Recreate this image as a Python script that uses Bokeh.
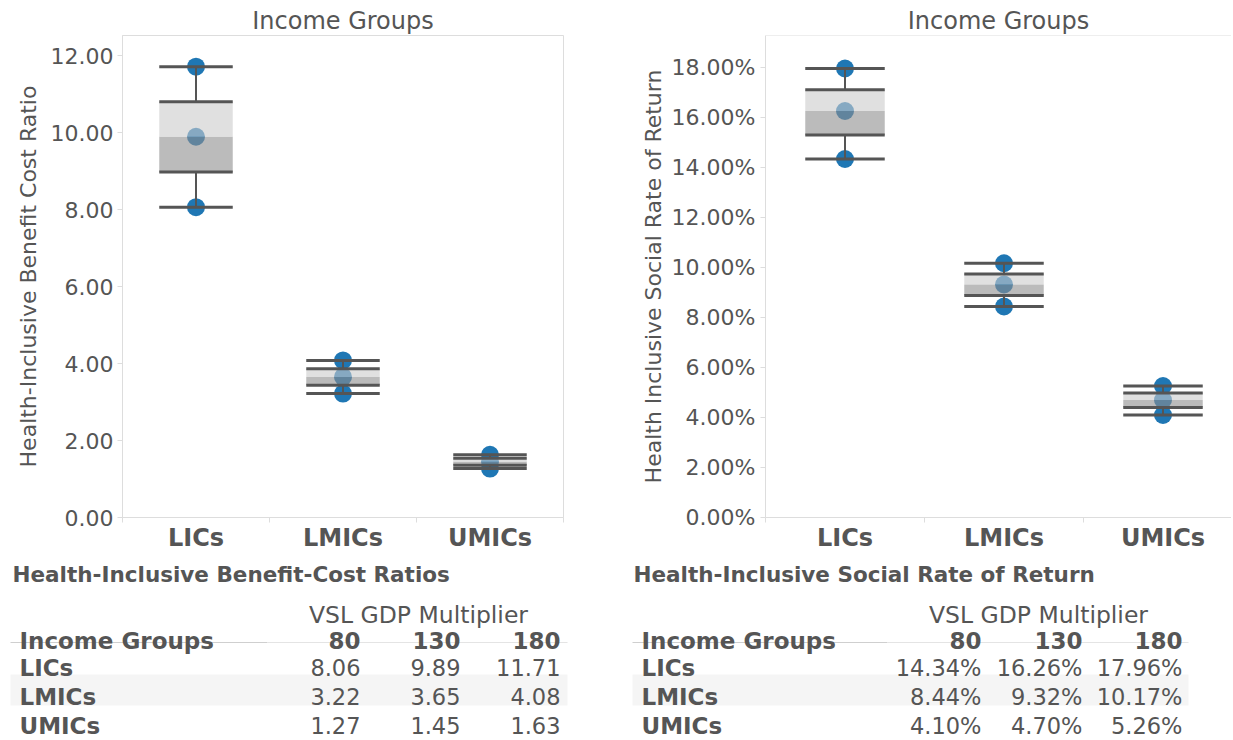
from bokeh.plotting import figure
from bokeh.models import Range1d, FixedTicker, PrintfTickFormatter, ColumnDataSource, Span
from bokeh.layouts import row
from bokeh.core.properties import value
from bokeh.embed import file_html
from bokeh.resources import INLINE

# ---------------- data ----------------
groups = ["LICs", "LMICs", "UMICs"]
multipliers = ["80", "130", "180"]
bcr_80 = [8.06, 3.22, 1.27]
bcr_130 = [9.89, 3.65, 1.45]
bcr_180 = [11.71, 4.08, 1.63]
srr_80 = [14.34, 8.44, 4.10]
srr_130 = [16.26, 9.32, 4.70]
srr_180 = [17.96, 10.17, 5.26]
bcr_ticks = [0, 2, 4, 6, 8, 10, 12]
srr_ticks = [0, 2, 4, 6, 8, 10, 12, 14, 16, 18]

FONT = "DejaVu Sans"
GREY = "#555555"
LIGHT = "#dddddd"
BLUE = "#1f77b4"
BOX_H = 557
TAB_H = 183


def box_fig(v80, v130, v180, ylabel, yfmt, y_end, ticks, width,
            border_left, border_right, x_end, label_standoff, tick_standoff, outline):
    p = figure(width=width, height=BOX_H, x_range=Range1d(0, x_end), y_range=Range1d(0, y_end),
               output_backend="svg", toolbar_location=None,
               min_border_left=border_left, min_border_right=border_right,
               min_border_top=35, min_border_bottom=40)
    xs, lo, q1, med, q3, hi = [], [], [], [], [], []
    px, py = [], []
    for i in range(len(groups)):
        vals = sorted([v80[i], v130[i], v180[i]])
        x = i + 0.5
        xs.append(x)
        lo.append(vals[0]); med.append(vals[1]); hi.append(vals[2])
        q1.append((vals[0] + vals[1]) / 2)
        q3.append((vals[1] + vals[2]) / 2)
        for v in vals:
            px.append(x); py.append(v)
    half = 0.25
    left = [x - half for x in xs]
    right = [x + half for x in xs]
    src = ColumnDataSource(dict(x=xs, left=left, right=right, lo=lo, q1=q1, med=med, q3=q3, hi=hi))

    p.scatter(x=px, y=py, size=18, fill_color=BLUE, line_color=None)
    p.segment(x0="x", y0="lo", x1="x", y1="q1", source=src, line_width=2, line_color=GREY)
    p.segment(x0="x", y0="q3", x1="x", y1="hi", source=src, line_width=2, line_color=GREY)
    p.quad(left="left", right="right", bottom="q1", top="med", source=src,
           fill_color="#8e8e8e", fill_alpha=0.6, line_color=None)
    p.quad(left="left", right="right", bottom="med", top="q3", source=src,
           fill_color="#cbcbcb", fill_alpha=0.6, line_color=None)
    for lev in ["lo", "q1", "q3", "hi"]:
        p.segment(x0="left", y0=lev, x1="right", y1=lev, source=src, line_width=3, line_color=GREY)

    p.title.text = "Income Groups"
    p.title.align = "center"
    p.title.text_font = FONT
    p.title.text_font_size = "24px"
    p.title.text_font_style = "normal"
    p.title.text_color = GREY
    p.title.standoff = 2

    p.xgrid.visible = False
    p.ygrid.visible = False
    if outline:
        p.outline_line_color = LIGHT
    else:
        p.outline_line_color = None
        p.add_layout(Span(location=y_end, dimension="width", line_color=LIGHT, line_width=1))

    xa = p.xaxis[0]
    xa.ticker = FixedTicker(ticks=xs, minor_ticks=[0, 1, 2, 3])
    xa.major_label_overrides = {x: g for x, g in zip(xs, groups)}
    xa.major_tick_out = 0
    xa.major_tick_in = 0
    xa.minor_tick_out = 5
    xa.minor_tick_in = 0
    xa.minor_tick_line_color = LIGHT
    xa.axis_line_color = LIGHT
    xa.major_label_text_font = FONT
    xa.major_label_text_font_size = "24px"
    xa.major_label_text_font_style = "bold"
    xa.major_label_text_color = GREY
    xa.major_label_standoff = 1

    ya = p.yaxis[0]
    ya.ticker = FixedTicker(ticks=ticks)
    ya.formatter = PrintfTickFormatter(format=yfmt)
    ya.major_tick_out = 5
    ya.major_tick_in = 0
    ya.major_tick_line_color = LIGHT
    ya.axis_line_color = LIGHT
    ya.major_label_text_font = FONT
    ya.major_label_text_font_size = "22px"
    ya.major_label_text_color = GREY
    ya.major_label_standoff = tick_standoff
    ya.axis_label = ylabel
    ya.axis_label_text_font = FONT
    ya.axis_label_text_font_size = "22px"
    ya.axis_label_text_font_style = "normal"
    ya.axis_label_text_color = GREY
    ya.axis_label_standoff = label_standoff
    return p


def table_fig(title, v80, v130, v180, fmt, width, title_x, label_x, col_right, vsl_x,
              line_x0, line_mid, line_x1):
    H = TAB_H
    p = figure(width=width, height=H, x_range=Range1d(0, width), y_range=Range1d(H, 0),
               output_backend="svg", toolbar_location=None, min_border=0,
               x_axis_location=None, y_axis_location=None)
    p.title = None
    p.grid.visible = False
    p.outline_line_color = None
    title_y, vsl_y, head_y, rule_y = 17, 57, 83, 85
    row_base = [110, 139, 168]
    # banding on the second row
    p.quad(left=[line_x0], right=[line_x1], top=[row_base[1] - 22], bottom=[row_base[1] + 9],
           fill_color="#f5f5f5", line_color=None)
    # header rule
    p.segment(x0=[line_x0, line_mid], x1=[line_mid, line_x1], y0=[rule_y, rule_y], y1=[rule_y, rule_y],
              line_color=["#cfcfcf", "#e4e4e4"], line_width=1.2)

    def txt(x, y, t, size, bold=False, align="left"):
        p.text(x=x, y=y, text=t, text_font=value(FONT), text_font_size=value(size),
               text_font_style="bold" if bold else "normal", text_color=GREY,
               text_align=align, text_baseline="alphabetic")

    txt([title_x], [title_y], [title], "21.5px", bold=True)
    txt([vsl_x], [vsl_y], ["VSL GDP Multiplier"], "23.5px", align="center")
    txt([label_x], [head_y], ["Income Groups"], "23px", bold=True)
    txt(col_right, [head_y] * 3, multipliers, "23px", bold=True, align="right")
    txt([label_x] * 3, row_base, groups, "23px", bold=True)
    for cx, vals in zip(col_right, [v80, v130, v180]):
        txt([cx] * 3, row_base, [fmt % v for v in vals], "22.5px", align="right")
    return p


box1 = box_fig(bcr_80, bcr_130, bcr_180, "Health-Inclusive Benefit Cost Ratio", "%.2f",
               12.52, bcr_ticks, 616, 122, 53, 3.0, 7, 4, True)
box2 = box_fig(srr_80, srr_130, srr_180, "Health Inclusive Social Rate of Return", "%.2f%%",
               19.28, srr_ticks, 615, 149, 0, 466 / 159, 3, 5, False)

tab1 = table_fig("Health-Inclusive Benefit-Cost Ratios", bcr_80, bcr_130, bcr_180, "%.2f", 616,
                 12, 19, [360, 460, 560], 418, 10, 267, 567)
tab2 = table_fig("Health-Inclusive Social Rate of Return", srr_80, srr_130, srr_180, "%.2f%%", 615,
                 17, 25, [365, 466, 566], 422, 16, 271, 572)

charts = row(box1, box2)
tables = row(tab1, tab2)
open("out.html", "w").write(file_html([charts, tables], INLINE))
